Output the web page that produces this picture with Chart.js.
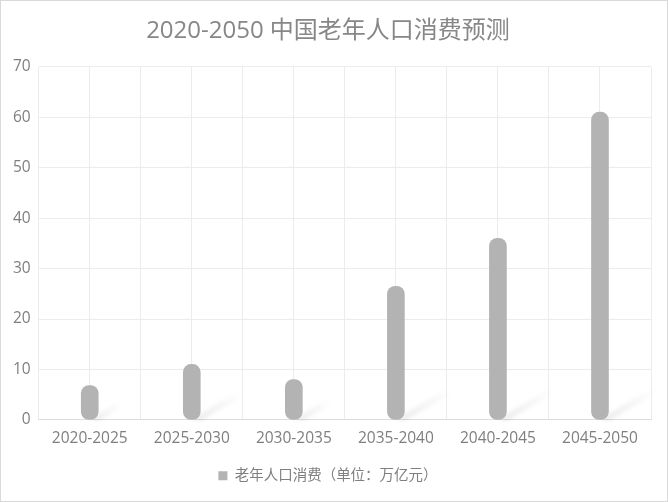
<!DOCTYPE html>
<html>
<head>
<meta charset="utf-8">
<script src="https://cdn.jsdelivr.net/npm/chart.js@4.4.0/dist/chart.umd.min.js"></script>
<style>
  html, body { margin: 0; padding: 0; background: #fff; }
  #wrap { position: relative; width: 666px; height: 500px; border: 1px solid #d9d9d9; }
</style>
</head>
<body>
<div id="wrap"><canvas id="chart"></canvas></div>
<script>
// --- DATA ---
const periods = ['2020-2025', '2025-2030', '2030-2035', '2035-2040', '2040-2045', '2045-2050'];
const consumption = [6.8, 11, 8, 26.5, 36, 61];
const yTicks = [0, 10, 20, 30, 40, 50, 60, 70];

const seriesName = '老年人口消费（单位：万亿元）';
const titleText = '2020-2050 中国老年人口消费预测';
const font = "'Open Sans', 'Noto Sans CJK SC', sans-serif";

// soft diagonal shadow behind each cylinder
const shadowPlugin = {
    id: 'barShadow',
    beforeDatasetsDraw(chart) {
        const ctx = chart.ctx;
        const meta = chart.getDatasetMeta(0);
        ctx.save();
        meta.data.forEach(bar => {
            const h = bar.base - bar.y;
            const len = Math.min(h * 0.9, 55);
            const x0 = bar.x;
            const y0 = bar.base;
            const dx = len;
            const dy = len * 0.6;
            const g = ctx.createLinearGradient(x0, y0, x0 + dx, y0 - dy);
            g.addColorStop(0, 'rgba(0,0,0,0.09)');
            g.addColorStop(1, 'rgba(0,0,0,0)');
            ctx.fillStyle = g;
            ctx.filter = 'blur(2px)';
            ctx.beginPath();
            ctx.moveTo(x0, y0);
            ctx.lineTo(x0 + dx, y0 - dy);
            ctx.lineTo(x0 + dx + 8, y0 - dy + 3);
            ctx.lineTo(x0 + 9, y0 + 1);
            ctx.closePath();
            ctx.fill();
        });
        ctx.restore();
    }
};

const ctx = document.getElementById('chart').getContext('2d');
new Chart(ctx, {
    type: 'bar',
    data: {
        labels: periods,
        datasets: [{
            label: seriesName,
            data: consumption,
            backgroundColor: '#b3b3b3',
            barThickness: 17,
            borderRadius: { topLeft: 8, topRight: 8, bottomLeft: 8, bottomRight: 8 },
            borderSkipped: false
        }]
    },
    options: {
        responsive: true,
        maintainAspectRatio: false,
        animation: false,
        layout: { padding: { left: 4, right: 16, top: 0, bottom: 8 } },
        plugins: {
            title: {
                display: true,
                text: titleText,
                color: '#878787',
                font: { family: font, size: 24, weight: 'normal' },
                padding: { top: 16, bottom: 21 }
            },
            legend: {
                position: 'bottom',
                labels: {
                    color: '#7f7f7f',
                    font: { family: font, size: 14.5 },
                    boxWidth: 9,
                    boxHeight: 9,
                    padding: 12
                }
            },
            tooltip: { enabled: false }
        },
        scales: {
            x: {
                grid: { color: '#ececec', offset: false, drawTicks: false },
                border: { color: '#dcdcdc' },
                ticks: { color: '#7f7f7f', font: { family: font, size: 15.5 }, padding: 9 }
            },
            x2: {
                type: 'category',
                labels: periods,
                position: 'bottom',
                display: true,
                grid: { color: '#ececec', offset: true, drawTicks: false },
                border: { display: false },
                ticks: { display: false }
            },
            y: {
                min: 0,
                max: 70,
                afterBuildTicks(axis) { axis.ticks = yTicks.map(v => ({ value: v })); },
                grid: { color: '#ececec', drawTicks: false },
                border: { display: false },
                ticks: { color: '#7f7f7f', font: { family: font, size: 15.5 }, padding: 8 }
            }
        }
    },
    plugins: [shadowPlugin]
});
</script>
</body>
</html>
